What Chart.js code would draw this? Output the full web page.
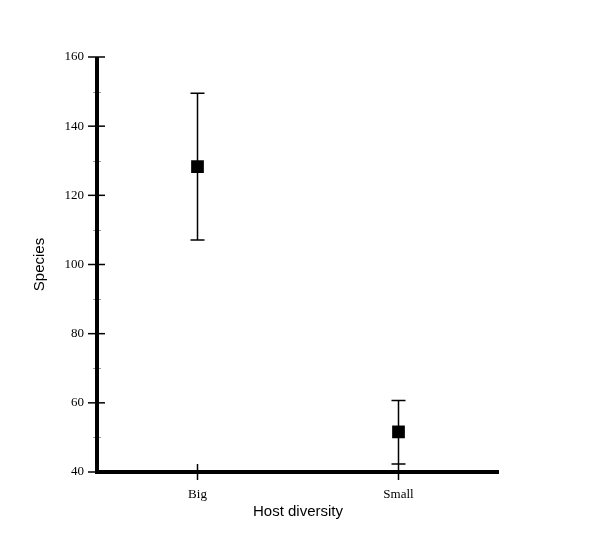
<!DOCTYPE html>
<html>
<head>
<meta charset="utf-8">
<script src="https://cdn.jsdelivr.net/npm/chart.js@4/dist/chart.umd.min.js"></script>
<style>
  html, body { margin: 0; padding: 0; background: #fff; }
  #wrap { width: 600px; height: 535px; }
</style>
</head>
<body>
<div id="wrap"><canvas id="chart" width="600" height="535"></canvas></div>
<script>
// datos del grafico
const categorias = ['Big', 'Small'];
const especiesMedia = [128.3, 51.6];
const errorInferior = [107.1, 42.3];
const errorSuperior = [149.5, 60.7];
const ticksY = [40, 60, 80, 100, 120, 140, 160];

// barras de error + ejes con marcas cruzadas
const pluginErrores = {
    id: 'errores',
    beforeDatasetsDraw(chart) {
        const ctx = chart.ctx;
        const x = chart.scales.x;
        const y = chart.scales.y;
        ctx.save();
        ctx.strokeStyle = '#000';
        ctx.lineWidth = 1.5;
        categorias.forEach((c, i) => {
            const px = x.getPixelForValue(i);
            const yLo = y.getPixelForValue(errorInferior[i]);
            const yHi = y.getPixelForValue(errorSuperior[i]);
            ctx.beginPath();
            ctx.moveTo(px, yLo); ctx.lineTo(px, yHi);
            ctx.moveTo(px - 7, yLo); ctx.lineTo(px + 7, yLo);
            ctx.moveTo(px - 7, yHi); ctx.lineTo(px + 7, yHi);
            ctx.stroke();
        });
        ctx.restore();
    },
    afterDraw(chart) {
        const ctx = chart.ctx;
        const x = chart.scales.x;
        const y = chart.scales.y;
        ctx.save();
        // marcas menores
        ctx.strokeStyle = '#999';
        ctx.lineWidth = 1;
        for (let v = 50; v < 160; v += 20) {
            const py = Math.round(y.getPixelForValue(v)) + 0.5;
            ctx.beginPath();
            ctx.moveTo(x.left - 4, py); ctx.lineTo(x.left + 4, py);
            ctx.stroke();
        }
        // marcas mayores
        ctx.strokeStyle = '#000';
        ctx.lineWidth = 1.5;
        ticksY.forEach(v => {
            const py = y.getPixelForValue(v);
            ctx.beginPath();
            ctx.moveTo(x.left - 9, py); ctx.lineTo(x.left + 8, py);
            ctx.stroke();
        });
        categorias.forEach((c, i) => {
            const px = x.getPixelForValue(i);
            ctx.beginPath();
            ctx.moveTo(px, y.bottom - 8); ctx.lineTo(px, y.bottom + 8);
            ctx.stroke();
        });
        // lineas de ejes
        ctx.lineWidth = 4;
        ctx.lineCap = 'butt';
        ctx.beginPath();
        ctx.moveTo(x.left, y.top);
        ctx.lineTo(x.left, y.bottom + 2);
        ctx.moveTo(x.left - 2, y.bottom);
        ctx.lineTo(x.right, y.bottom);
        ctx.stroke();
        ctx.restore();
    }
};

const ctx = document.getElementById('chart').getContext('2d');

new Chart(ctx, {
    type: 'line',
    data: {
        labels: categorias,
        datasets: [{
            label: 'Species',
            data: especiesMedia,
            showLine: false,
            pointStyle: 'rect',
            pointRadius: 9,
            pointHoverRadius: 9,
            backgroundColor: '#000',
            borderColor: '#000',
            borderWidth: 0
        }]
    },
    options: {
        responsive: false,
        animation: false,
        events: [],
        layout: {
            padding: { left: 0, right: 101, top: 57, bottom: 0 }
        },
        plugins: {
            legend: { display: false },
            tooltip: { enabled: false }
        },
        scales: {
            x: {
                type: 'category',
                offset: true,
                grid: { display: false },
                border: { display: false },
                ticks: {
                    color: '#000',
                    padding: 7,
                    font: { family: '"Liberation Serif", "Times New Roman", serif', size: 13 }
                },
                title: {
                    display: true,
                    text: 'Host diversity',
                    color: '#000',
                    padding: { top: 4, bottom: 14 },
                    font: { family: '"Liberation Sans", Arial, sans-serif', size: 15 }
                },
                afterFit(scale) { scale.height = 63; }
            },
            y: {
                min: 40,
                max: 160,
                grid: { display: false },
                border: { display: false },
                ticks: {
                    stepSize: 20,
                    color: '#000',
                    padding: 5,
                    font: { family: '"Liberation Serif", "Times New Roman", serif', size: 13 }
                },
                title: {
                    display: true,
                    text: 'Species',
                    color: '#000',
                    padding: { top: 31 },
                    font: { family: '"Liberation Sans", Arial, sans-serif', size: 15 }
                },
                afterFit(scale) { scale.width = 97; }
            }
        }
    },
    plugins: [pluginErrores]
});
</script>
</body>
</html>
